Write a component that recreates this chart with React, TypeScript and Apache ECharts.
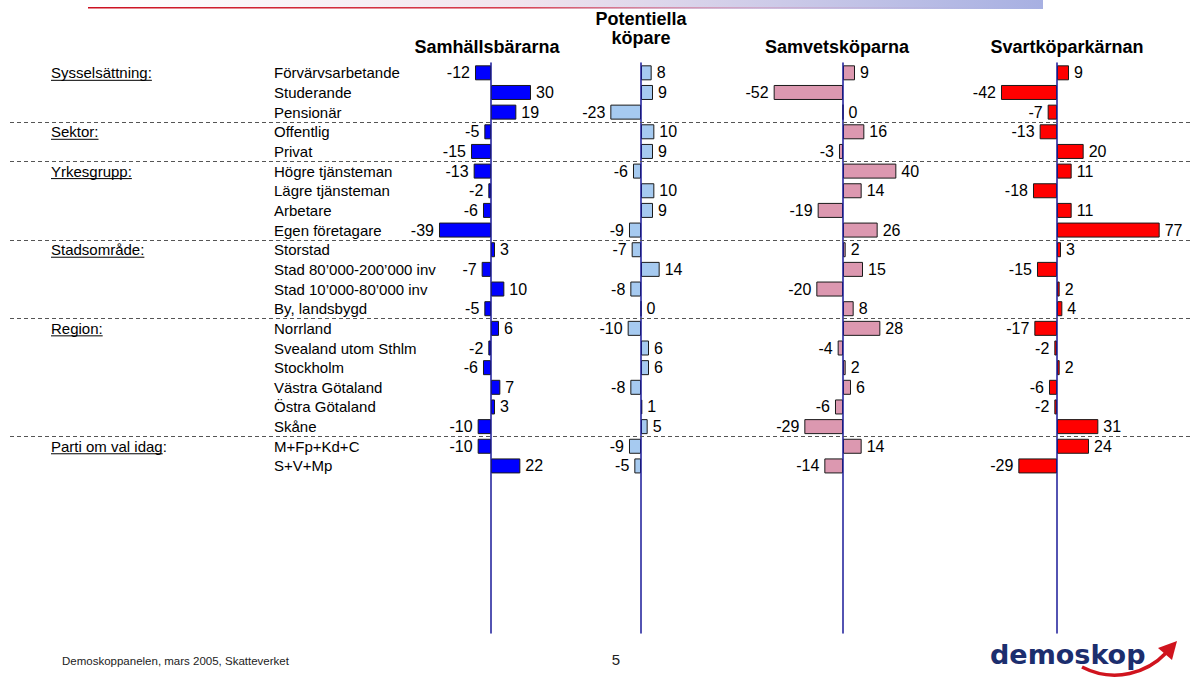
import React, { useEffect, useRef } from "react";
import * as echarts from "echarts";

const categories = [
  "Förvärvsarbetande",
  "Studerande",
  "Pensionär",
  "Offentlig",
  "Privat",
  "Högre tjänsteman",
  "Lägre tjänsteman",
  "Arbetare",
  "Egen företagare",
  "Storstad",
  "Stad 80’000-200’000 inv",
  "Stad 10’000-80’000 inv",
  "By, landsbygd",
  "Norrland",
  "Svealand utom Sthlm",
  "Stockholm",
  "Västra Götaland",
  "Östra Götaland",
  "Skåne",
  "M+Fp+Kd+C",
  "S+V+Mp",
];

const groupNames = ["Sysselsättning:", "Sektor:", "Yrkesgrupp:", "Stadsområde:", "Region:", "Parti om val idag:"];
const groupUnderline = ["Sysselsättning:", "Sektor:", "Yrkesgrupp:", "Stadsområde:", "Region:", "Parti om val idag"];
const groupStarts = [0, 3, 5, 9, 13, 19];

const seriesTitles = ["Samhällsbärarna", "Potentiella\nköpare", "Samvetsköparna", "Svartköparkärnan"];

const samhallsbärarna = [-12, 30, 19, -5, -15, -13, -2, -6, -39, 3, -7, 10, -5, 6, -2, -6, 7, 3, -10, -10, 22];
const potentiella = [8, 9, -23, 10, 9, -6, 10, 9, -9, -7, 14, -8, 0, -10, 6, 6, -8, 1, 5, -9, -5];
const samvetsköparna = [9, -52, 0, 16, -3, 40, 14, -19, 26, 2, 15, -20, 8, 28, -4, 2, 6, -6, -29, 14, -14];
const svartköparkärnan = [9, -42, -7, -13, 20, 11, -18, 11, 77, 3, -15, 2, 4, -17, -2, 2, -6, -2, 31, 24, -29];

const SLOT_COUNT = 29;

const FONT = '"Liberation Sans", Arial, Helvetica, sans-serif';
const COLORS = ["#0000FF", "#A6CAF0", "#DC98B0", "#FF0000"];
const ZEROS = [491, 641, 843, 1057];
const TITLE_X = [487, 641, 837, 1067];
const TITLE_Y = [47, 38, 47, 47];
const K = 1.3335;
const XMIN = -60;
const XMAX = 80;
const TOP = 63;
const HEIGHT = 570;
const CAT_LABEL_X = 274;

function buildOption() {
  const allSeries = [samhallsbärarna, potentiella, samvetsköparna, svartköparkärnan];
  const slots = Array.from({ length: SLOT_COUNT }, (_, i) => (i < categories.length ? categories[i] : ""));

  const grids: any[] = [{ left: 10, right: 0, top: TOP, height: HEIGHT }];
  const xAxes: any[] = [{ type: "value", gridIndex: 0, min: 0, max: 1, show: false }];
  const yAxes: any[] = [{ type: "value", gridIndex: 0, min: 0, max: SLOT_COUNT, inverse: true, show: false }];
  const series: any[] = [
    {
      type: "line",
      xAxisIndex: 0,
      yAxisIndex: 0,
      data: [[0, 0]],
      showSymbol: false,
      silent: true,
      lineStyle: { opacity: 0 },
      markLine: {
        silent: true,
        symbol: ["none", "none"],
        label: { show: false },
        lineStyle: { type: [4, 3], color: "#555555", width: 1 },
        data: groupStarts.slice(1).map((v) => ({ yAxis: v })),
      },
    },
  ];

  allSeries.forEach((vals, i) => {
    const gi = i + 1;
    const gridLeft = ZEROS[i] + XMIN * K;
    grids.push({ left: gridLeft, width: (XMAX - XMIN) * K, top: TOP, height: HEIGHT });
    xAxes.push({ type: "value", gridIndex: gi, min: XMIN, max: XMAX, show: false });
    yAxes.push({
      type: "category",
      gridIndex: gi,
      data: slots,
      inverse: true,
      z: 3,
      axisLine: { show: true, onZero: true, lineStyle: { color: "#1A1A99", width: 1.5 } },
      axisTick: { show: false },
      splitLine: { show: false },
      axisLabel:
        i === 0
          ? { show: true, interval: 0, align: "left", margin: gridLeft - CAT_LABEL_X, fontSize: 15, fontFamily: FONT, color: "#000" }
          : { show: false },
    });
    series.push({
      type: "bar",
      name: seriesTitles[i],
      xAxisIndex: gi,
      yAxisIndex: gi,
      barWidth: 15,
      itemStyle: { color: COLORS[i], borderColor: "#1a1a1a", borderWidth: 1 },
      label: { show: true, fontSize: 16, fontFamily: FONT, color: "#000", distance: 5 },
      data: vals.map((v) => ({ value: v, label: { position: v < 0 ? "left" : "right" } })),
    });
  });

  return {
    animation: false,
    backgroundColor: "#ffffff",
    grid: grids,
    xAxis: xAxes,
    yAxis: yAxes,
    series,
  };
}

export default function App() {
  const ref = useRef<HTMLDivElement>(null);
  useEffect(() => {
    if (!ref.current) return;
    const chart = echarts.init(ref.current, null, { renderer: "svg" });
    chart.setOption(buildOption());

    const canvas = document.createElement("canvas");
    const ctx = canvas.getContext("2d")!;
    ctx.font = `15px ${FONT}`;

    const graphics: any[] = [];
    // top decorative band
    graphics.push({
      type: "rect",
      silent: true,
      shape: { x: 88, y: 0, width: 955, height: 9 },
      style: {
        fill: {
          type: "linear", x: 0, y: 0, x2: 1, y2: 0,
          colorStops: [
            { offset: 0, color: "#ffffff" },
            { offset: 0.45, color: "#F1E4EE" },
            { offset: 1, color: "#A7B0E2" },
          ],
        },
      },
    });
    graphics.push({
      type: "rect",
      silent: true,
      shape: { x: 88, y: 7, width: 955, height: 1.6 },
      style: {
        fill: {
          type: "linear", x: 0, y: 0, x2: 1, y2: 0,
          colorStops: [
            { offset: 0, color: "#CC1020" },
            { offset: 0.45, color: "#D84050" },
            { offset: 0.7, color: "rgba(200,120,160,0.4)" },
            { offset: 1, color: "rgba(167,176,226,0)" },
          ],
        },
      },
    });
    // titles
    seriesTitles.forEach((t, i) => {
      const lines = t.split("\n");
      lines.forEach((ln, li) => {
        graphics.push({
          type: "text",
          x: TITLE_X[i],
          y: TITLE_Y[i] - (lines.length - 1 - li) * 19,
          style: { text: ln, font: `bold 18px ${FONT}`, fill: "#000", align: "center", verticalAlign: "middle" },
        });
      });
    });
    // group labels
    groupNames.forEach((name, gi) => {
      const p = chart.convertToPixel({ gridIndex: 0 } as any, [0, groupStarts[gi] + 0.5]) as number[];
      const y = p[1];
      graphics.push({
        type: "text",
        x: 51,
        y,
        style: { text: name, font: `15px ${FONT}`, fill: "#000", align: "left", verticalAlign: "middle" },
      });
      const w = ctx.measureText(groupUnderline[gi]).width;
      graphics.push({
        type: "line",
        shape: { x1: 51, y1: y + 7.5, x2: 51 + w, y2: y + 7.5 },
        style: { stroke: "#000", lineWidth: 1 },
      });
    });
    // footer
    graphics.push({
      type: "text",
      x: 62,
      y: 661,
      style: { text: "Demoskoppanelen, mars 2005, Skatteverket", font: `11.5px ${FONT}`, fill: "#222", align: "left", verticalAlign: "middle" },
    });
    graphics.push({
      type: "text",
      x: 616,
      y: 659,
      style: { text: "5", font: `15px ${FONT}`, fill: "#222", align: "center", verticalAlign: "middle" },
    });
    // logo
    graphics.push({
      type: "text",
      x: 990,
      y: 668,
      style: { text: "demoskop", font: `bold 27px "DejaVu Sans", Verdana, sans-serif`, fill: "#1C2E6E", align: "left", verticalAlign: "bottom" },
    });
    graphics.push({
      type: "bezierCurve",
      shape: { x1: 1082, y1: 667, cpx1: 1115, cpy1: 684, cpx2: 1148, cpy2: 672, x2: 1166, y2: 653 },
      style: { stroke: "#D0141E", lineWidth: 3.5, fill: null },
    });
    graphics.push({
      type: "polygon",
      shape: { points: [[1158, 648], [1177, 641], [1172, 660]] },
      style: { fill: "#D0141E" },
    });

    chart.setOption({ graphic: graphics });
    return () => chart.dispose();
  }, []);

  return (
    <div
      ref={ref}
      style={{ position: "fixed", left: 0, top: 0, width: 1190, height: 679, background: "#fff" }}
    />
  );
}
